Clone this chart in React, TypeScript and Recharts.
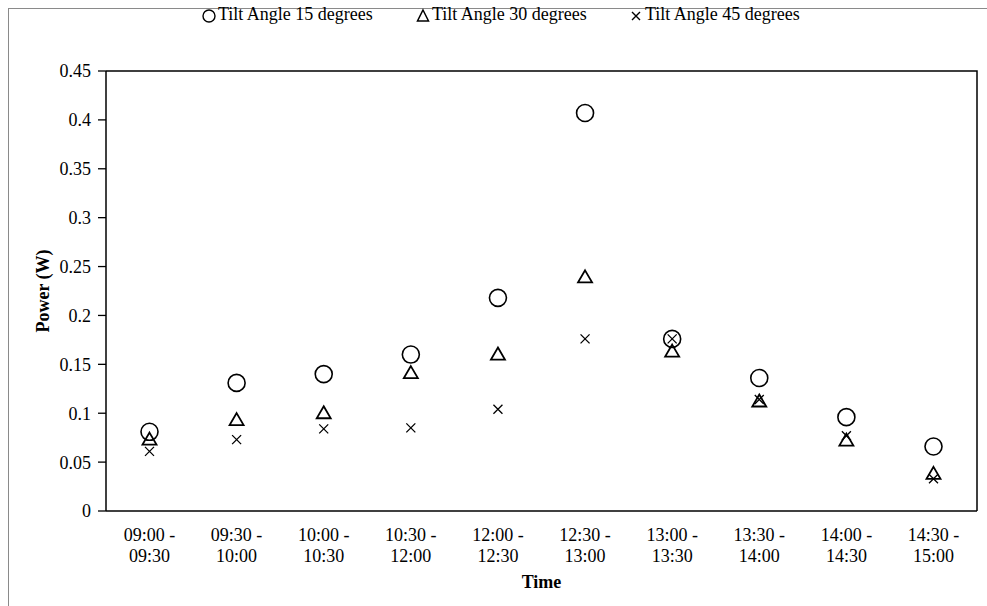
import React from "react";
import {
  ComposedChart,
  Scatter,
  XAxis,
  YAxis,
} from "recharts";

const timeSlots = [
  "09:00 - 09:30",
  "09:30 - 10:00",
  "10:00 - 10:30",
  "10:30 - 12:00",
  "12:00 - 12:30",
  "12:30 - 13:00",
  "13:00 - 13:30",
  "13:30 - 14:00",
  "14:00 - 14:30",
  "14:30 - 15:00",
];
const tilt15 = [0.081, 0.131, 0.14, 0.16, 0.218, 0.407, 0.176, 0.136, 0.096, 0.066];
const tilt30 = [0.074, 0.094, 0.101, 0.142, 0.161, 0.24, 0.164, 0.113, 0.073, 0.039];
const tilt45 = [0.061, 0.073, 0.084, 0.085, 0.104, 0.176, 0.176, 0.114, 0.077, 0.033];
const yTicks = [0, 0.05, 0.1, 0.15, 0.2, 0.25, 0.3, 0.35, 0.4, 0.45];

const data = timeSlots.map((time, i) => ({
  time,
  t15: tilt15[i],
  t30: tilt30[i],
  t45: tilt45[i],
}));

const FONT = '"Liberation Serif", "Times New Roman", serif';
const PLOT_TOP = 71;
const frameLine = { stroke: "#000", strokeWidth: 1.5 };

// marker shapes, Excel style
function CircleMark(props: any) {
  const { cx, cy } = props;
  if (cx == null || cy == null) return null;
  return <circle cx={cx} cy={cy} r={8.5} fill="none" stroke="#000" strokeWidth={1.6} />;
}

function TriangleMark(props: any) {
  const { cx, cy } = props;
  if (cx == null || cy == null) return null;
  const w = 7;
  const h = 6;
  return (
    <path
      d={`M${cx},${cy - h} L${cx + w},${cy + h} L${cx - w},${cy + h} Z`}
      fill="none"
      stroke="#000"
      strokeWidth={1.8}
      strokeLinejoin="miter"
    />
  );
}

function CrossMark(props: any) {
  const { cx, cy } = props;
  if (cx == null || cy == null) return null;
  const s = 4.5;
  return (
    <path
      d={`M${cx - s},${cy - s} L${cx + s},${cy + s} M${cx + s},${cy - s} L${cx - s},${cy + s}`}
      stroke="#000"
      strokeWidth={1.3}
    />
  );
}

function TimeTick(props: any) {
  const { x, y, payload } = props;
  const [a, b] = String(payload.value).split(" - ");
  return (
    <g>
      <text x={x} y={y + 30} textAnchor="middle" fontSize={18} fontFamily={FONT} fill="#000">
        {a} -
      </text>
      <text x={x} y={y + 51} textAnchor="middle" fontSize={18} fontFamily={FONT} fill="#000">
        {b}
      </text>
    </g>
  );
}

// x axis title, plus the top and right edges of the plot frame
function TimeLabel(p: any) {
  const vb = p.viewBox;
  const right = vb.x + vb.width;
  return (
    <g>
      <path
        d={`M${vb.x},${PLOT_TOP} L${right},${PLOT_TOP} L${right},${vb.y}`}
        fill="none"
        stroke="#000"
        strokeWidth={1.5}
      />
      <text
        x={vb.x + vb.width / 2}
        y={vb.y + 77}
        textAnchor="middle"
        fontSize={18}
        fontWeight="bold"
        fontFamily={FONT}
        fill="#000"
      >
        Time
      </text>
    </g>
  );
}

function PowerLabel(p: any) {
  const vb = p.viewBox;
  const cx = vb.x + 43;
  const cy = vb.y + vb.height / 2;
  return (
    <text
      x={cx}
      y={cy}
      transform={`rotate(-90 ${cx} ${cy})`}
      textAnchor="middle"
      dominantBaseline="central"
      fontSize={18}
      fontWeight="bold"
      fontFamily={FONT}
      fill="#000"
    >
      Power (W)
    </text>
  );
}

function LegendItem({ kind, label, left }: { kind: string; label: string; left: number }) {
  return (
    <div style={{ position: "absolute", left, top: 4, display: "flex", alignItems: "center" }}>
      <svg width={16} height={18} style={{ marginRight: 1 }}>
        {kind === "circle" && <circle cx={8} cy={10} r={6} fill="none" stroke="#000" strokeWidth={1.4} />}
        {kind === "triangle" && (
          <path d="M8,4 L13.5,15 L2.5,15 Z" fill="none" stroke="#000" strokeWidth={1.5} />
        )}
        {kind === "cross" && <path d="M4,6 L12,14 M12,6 L4,14" stroke="#000" strokeWidth={1.4} />}
      </svg>
      <span style={{ fontFamily: FONT, fontSize: 18, color: "#000", whiteSpace: "nowrap" }}>{label}</span>
    </div>
  );
}

export default function App() {
  return (
    <div style={{ position: "absolute", left: 0, top: 0, width: 987, height: 606, background: "#fff", overflow: "hidden" }}>
      <div
        style={{
          position: "absolute",
          left: 8,
          top: 8,
          width: 990,
          height: 620,
          borderTop: "1.5px solid #8a8a8a",
          borderLeft: "1.5px solid #8a8a8a",
        }}
      />
      <LegendItem kind="circle" label="Tilt Angle 15 degrees" left={201} />
      <LegendItem kind="triangle" label="Tilt Angle 30 degrees" left={415} />
      <LegendItem kind="cross" label="Tilt Angle 45 degrees" left={628} />
      <div style={{ position: "absolute", left: 0, top: 0 }}>
        <ComposedChart width={987} height={606} data={data} margin={{ top: PLOT_TOP, right: 10, bottom: 0, left: 0 }}>
          <XAxis
            dataKey="time"
            type="category"
            height={95}
            padding={{ left: 43.5, right: 43.5 }}
            tick={<TimeTick />}
            tickLine={false}
            tickSize={0}
            tickMargin={0}
            interval={0}
            axisLine={frameLine}
            label={TimeLabel}
          />
          <YAxis
            type="number"
            domain={[0, 0.45]}
            ticks={yTicks}
            width={106}
            tickSize={8}
            tickMargin={7}
            tick={{ fontSize: 18, fontFamily: FONT, fill: "#000" }}
            tickLine={{ stroke: "#000", strokeWidth: 1.3 }}
            axisLine={frameLine}
            label={PowerLabel}
          />
          <Scatter dataKey="t15" name="Tilt Angle 15 degrees" shape={<CircleMark />} isAnimationActive={false} />
          <Scatter dataKey="t30" name="Tilt Angle 30 degrees" shape={<TriangleMark />} isAnimationActive={false} />
          <Scatter dataKey="t45" name="Tilt Angle 45 degrees" shape={<CrossMark />} isAnimationActive={false} />
        </ComposedChart>
      </div>
    </div>
  );
}
